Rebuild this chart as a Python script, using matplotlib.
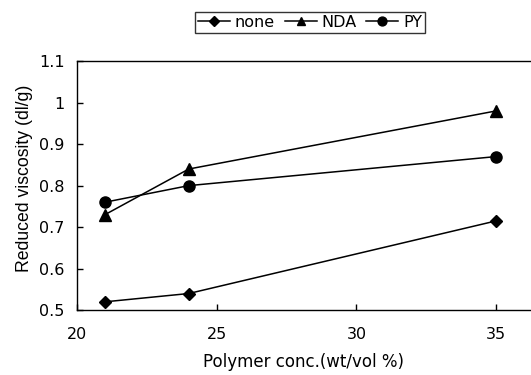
import matplotlib
matplotlib.use("Agg")
import matplotlib.pyplot as plt

plt.rcParams['font.family'] = ['DejaVu Sans']

conc = [21, 24, 35]
none_vals = [0.52, 0.54, 0.715]
nda_vals = [0.73, 0.84, 0.98]
py_vals = [0.76, 0.80, 0.87]
xticks = [20, 25, 30, 35]
yticks = [0.5, 0.6, 0.7, 0.8, 0.9, 1.0, 1.1]
yticklabels = ['0.5', '0.6', '0.7', '0.8', '0.9', '1', '1.1']

fig = plt.figure(figsize=(5.31, 3.75), dpi=100)
ax = fig.add_axes([0.145, 0.173, 0.855, 0.664])

ax.plot(conc, none_vals, color='black', lw=1.1, marker='D', ms=6, label='none')
ax.plot(conc, nda_vals, color='black', lw=1.1, marker='^', ms=8, label='NDA')
ax.plot(conc, py_vals, color='black', lw=1.1, marker='o', ms=8, label='PY')

ax.set_xlim(20, 36.25)
ax.set_ylim(0.5, 1.1)
ax.set_xticks(xticks)
ax.set_yticks(yticks)
ax.set_yticklabels(yticklabels)
ax.tick_params(direction='in', length=4, labelsize=11.5, width=1)
ax.tick_params(axis='x', pad=12)
ax.tick_params(axis='y', pad=9)
ax.spines['right'].set_visible(False)
for s in ['top', 'left', 'bottom']:
    ax.spines[s].set_linewidth(1)
ax.set_xlabel('Polymer conc.(wt/vol %)', fontsize=12, labelpad=8)
ax.set_ylabel('Reduced viscosity (dl/g)', fontsize=12.7, family=['Liberation Sans'])
ax.yaxis.set_label_coords(-0.098, 0.53)

leg = fig.legend(loc='center', bbox_to_anchor=(0.584, 0.94), ncol=3, fontsize=11.5,
                 frameon=True, fancybox=False, edgecolor='black', handlelength=2.0,
                 handletextpad=0.3, columnspacing=0.6, borderpad=0.2, borderaxespad=0,
                 markerscale=0.8)
leg.get_frame().set_linewidth(1)

fig.savefig('out.png', dpi=100)
